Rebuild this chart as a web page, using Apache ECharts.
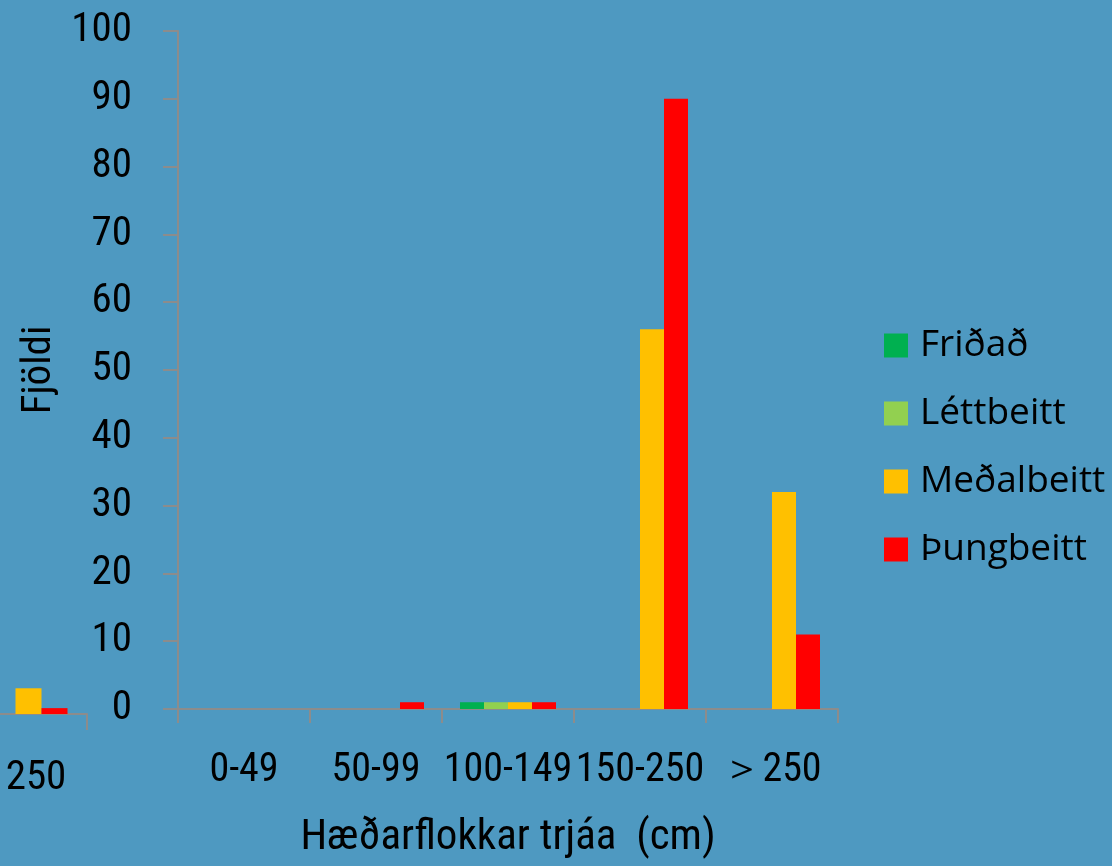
<!DOCTYPE html>
<html>
<head>
<meta charset="utf-8">
<script src="https://cdn.jsdelivr.net/npm/echarts@6/dist/echarts.min.js"></script>
<style>
  html, body { margin: 0; padding: 0; background: #4e99c1; }
  #chart { width: 1112px; height: 866px; }
</style>
</head>
<body>
<div id="chart"></div>
<script>
// flokkar og gildi
var categories = ['0-49', '50-99', '100-149', '150-250', '＞250'];
var fridad     = [0, 0, 1, 0, 0];
var lettbeitt  = [0, 0, 1, 0, 0];
var medalbeitt = [0, 0, 1, 56, 32];
var thungbeitt = [0, 1, 1, 90, 11];
var yTicks = [0, 100, 10]; // min, max, interval

// hluti af næsta grafi vinstra megin (skorinn af)
var leftCategories = ['＞250'];
var leftMedal = [3.5];
var leftThung = [0.8];

var names = ['Friðað', 'Léttbeitt', 'Meðalbeitt', 'Þungbeitt'];
var colors = ['#00b050', '#92d050', '#ffc000', '#ff0000'];

var axisFont = 'Roboto Condensed, DejaVu Sans Condensed, sans-serif';
var axisGray = '#8c8c8c';

var chart = echarts.init(document.getElementById('chart'));

function barSeries(name, data, idx, color, w) {
    return {
        name: name,
        type: 'bar',
        xAxisIndex: idx,
        yAxisIndex: idx,
        barWidth: w,
        barGap: '0%',
        itemStyle: { color: color },
        data: data
    };
}

var option = {
    backgroundColor: '#4e99c1',
    animation: false,
    color: colors,
    grid: [
        { left: 178, width: 660, top: 31, height: 678, outerBoundsMode: 'none' },
        { left: -56, width: 143, top: -21, height: 735, outerBoundsMode: 'none' }
    ],
    legend: {
        orient: 'vertical',
        left: 884,
        top: 327,
        padding: 0,
        itemWidth: 24,
        itemHeight: 24,
        itemGap: 31,
        icon: 'rect',
        data: names,
        textStyle: {
            fontFamily: 'Open Sans',
            fontSize: 37,
            lineHeight: 36,
            color: '#000',
            padding: [0, 0, 0, 7]
        }
    },
    xAxis: [
        {
            type: 'category',
            gridIndex: 0,
            data: categories,
            name: 'Hæðarflokkar trjáa  (cm)',
            nameLocation: 'middle',
            nameGap: 108,
            nameTextStyle: { fontFamily: axisFont, fontSize: 43, color: '#000' },
            axisLine: { lineStyle: { color: axisGray, width: 2 } },
            axisTick: { show: true, length: 14, lineStyle: { color: axisGray, width: 2 } },
            axisLabel: { interval: 0, margin: 42, fontFamily: axisFont, fontSize: 40, color: '#000' }
        },
        {
            type: 'category',
            gridIndex: 1,
            data: leftCategories,
            axisLine: { lineStyle: { color: axisGray, width: 2 } },
            axisTick: { show: true, length: 16, lineStyle: { color: axisGray, width: 2 } },
            axisLabel: { interval: 0, margin: 44, fontFamily: axisFont, fontSize: 41, color: '#000' }
        }
    ],
    yAxis: [
        {
            type: 'value',
            gridIndex: 0,
            min: yTicks[0],
            max: yTicks[1],
            interval: yTicks[2],
            name: 'Fjöldi',
            nameLocation: 'middle',
            nameGap: 110,
            nameTextStyle: { fontFamily: axisFont, fontSize: 41, color: '#000' },
            splitLine: { show: false },
            axisLine: { show: true, lineStyle: { color: axisGray, width: 2 } },
            axisTick: { show: true, length: 15, lineStyle: { color: axisGray, width: 2 } },
            axisLabel: { margin: 46, fontFamily: axisFont, fontSize: 41, color: '#000' }
        },
        {
            type: 'value',
            gridIndex: 1,
            min: 0,
            max: 100,
            show: false
        }
    ],
    series: [
        barSeries(names[0], fridad, 0, colors[0], 24),
        barSeries(names[1], lettbeitt, 0, colors[1], 24),
        barSeries(names[2], medalbeitt, 0, colors[2], 24),
        barSeries(names[3], thungbeitt, 0, colors[3], 24),
        barSeries(names[0], [0], 1, colors[0], 26),
        barSeries(names[1], [0], 1, colors[1], 26),
        barSeries(names[2], leftMedal, 1, colors[2], 26),
        barSeries(names[3], leftThung, 1, colors[3], 26)
    ]
};

chart.setOption(option);
</script>
</body>
</html>
